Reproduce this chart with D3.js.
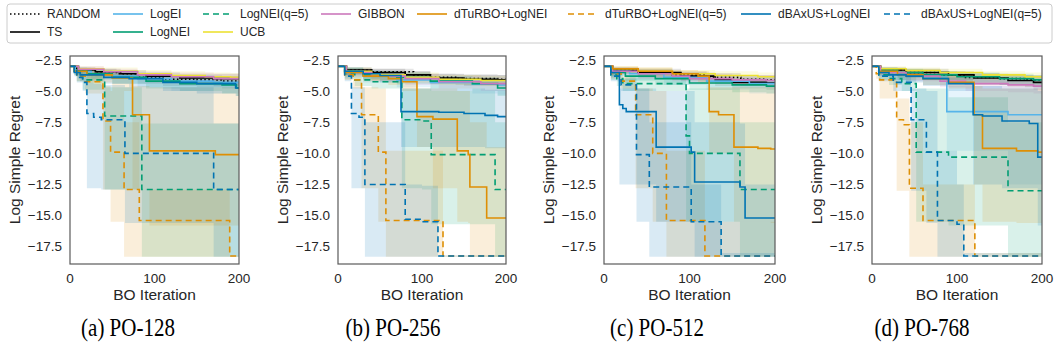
<!DOCTYPE html>
<html>
<head>
<meta charset="utf-8">
<script src="https://cdn.jsdelivr.net/npm/d3@7"></script>
<style>
  body { margin: 0; background: #fff; }
  svg { display: block; }
</style>
</head>
<body>
<svg id="chart" width="1056" height="354"></svg>
<script>
// methods, in legend order
const methods = ["RANDOM", "TS", "LogEI", "LogNEI", "LogNEI(q=5)", "UCB", "GIBBON",
  "dTuRBO+LogNEI", "dTuRBO+LogNEI(q=5)", "dBAxUS+LogNEI", "dBAxUS+LogNEI(q=5)"];
const captions = ["(a) PO-128", "(b) PO-256", "(c) PO-512", "(d) PO-768"];
const xTicks = [0, 100, 200];
const yTicks = [-2.5, -5, -7.5, -10, -12.5, -15, -17.5];

// each row: [iteration, mean, lower, upper]  (step-after)
const po128 = [
  [[0,-3.0,-3.1,-2.9],[8,-3.3,-3.6,-3.1],[30,-3.45,-3.8,-3.2],[55,-3.6,-4.0,-3.3],[80,-3.9,-4.4,-3.6],[110,-4.05,-4.6,-3.7],[150,-4.1,-4.7,-3.75],[180,-4.2,-4.8,-3.8]],
  [[0,-3.0,-3.1,-2.9],[10,-3.3,-3.6,-3.1],[30,-3.45,-3.8,-3.2],[60,-3.6,-4.0,-3.3],[90,-3.8,-4.3,-3.5],[130,-3.95,-4.5,-3.6],[170,-4.0,-4.6,-3.6]],
  [[0,-3.0,-3.1,-2.9],[6,-3.4,-3.8,-3.1],[25,-3.6,-4.1,-3.3],[50,-3.8,-4.4,-3.4],[80,-4.0,-4.7,-3.5],[120,-4.2,-5.0,-3.7],[170,-4.3,-5.2,-3.8]],
  [[0,-3.0,-3.1,-2.9],[5,-3.4,-3.7,-3.1],[20,-3.6,-4.0,-3.3],[50,-3.9,-4.4,-3.5],[90,-4.2,-4.8,-3.8],[130,-4.4,-5.0,-3.9],[180,-4.5,-5.2,-4.0],[197,-4.75,-5.4,-4.2]],
  [[0,-3.0,-3.1,-2.9],[8,-3.8,-4.2,-3.4],[15,-4.1,-4.9,-3.6],[41,-7.0,-12.9,-4.7],[85,-12.9,-18.3,-7.6]],
  [[0,-3.0,-3.1,-2.9],[10,-3.2,-3.5,-3.0],[40,-3.4,-3.7,-3.1],[80,-3.6,-4.0,-3.3],[120,-3.75,-4.1,-3.4],[160,-3.85,-4.2,-3.5],[190,-3.9,-4.3,-3.55]],
  [[0,-3.0,-3.1,-2.9],[10,-3.25,-3.5,-3.0],[40,-3.45,-3.8,-3.2],[80,-3.7,-4.1,-3.4],[120,-3.85,-4.3,-3.5],[170,-4.0,-4.4,-3.6]],
  [[0,-3.0,-3.1,-2.9],[5,-3.4,-3.7,-3.2],[20,-3.7,-4.3,-3.4],[50,-3.95,-5.0,-3.6],[74,-6.9,-12.9,-4.6],[94,-9.8,-15.8,-4.7],[172,-10.1,-15.8,-4.7]],
  [[0,-3.0,-3.1,-2.9],[8,-3.8,-4.2,-3.4],[18,-4.25,-5.2,-3.7],[39,-7.4,-12.9,-4.6],[48,-9.9,-15.5,-5.0],[64,-12.9,-18.3,-7.5],[82,-15.4,-18.3,-12.9],[189,-18.25,-18.3,-18.2]],
  [[0,-3.0,-3.1,-2.9],[5,-3.5,-3.8,-3.2],[12,-3.7,-4.2,-3.4],[40,-3.9,-4.4,-3.5],[70,-4.0,-4.7,-3.6],[110,-4.3,-5.0,-3.8],[150,-4.4,-5.2,-3.9],[196,-4.75,-5.4,-4.1]],
  [[0,-3.0,-3.1,-2.9],[8,-3.9,-4.3,-3.5],[15,-4.3,-5.0,-3.8],[20,-6.8,-12.8,-4.3],[28,-7.1,-12.8,-4.4],[37,-7.3,-12.9,-4.5],[65,-10.0,-15.6,-4.7],[170,-12.9,-18.3,-7.6]]
];

const po256 = [
  [[0,-3.0,-3.1,-2.9],[10,-3.3,-3.6,-3.1],[40,-3.45,-3.8,-3.2],[90,-3.7,-4.1,-3.4],[110,-3.9,-4.4,-3.6],[140,-4.0,-4.5,-3.65],[190,-4.05,-4.6,-3.7]],
  [[0,-3.0,-3.1,-2.9],[10,-3.3,-3.6,-3.1],[40,-3.5,-3.9,-3.2],[80,-3.7,-4.1,-3.4],[110,-3.95,-4.4,-3.6],[150,-4.05,-4.6,-3.7],[190,-4.1,-4.7,-3.7]],
  [[0,-3.0,-3.1,-2.9],[8,-3.5,-3.9,-3.2],[30,-3.8,-4.3,-3.4],[70,-4.1,-4.7,-3.6],[110,-4.3,-5.0,-3.8],[160,-4.45,-5.2,-3.9],[190,-4.5,-5.3,-3.9]],
  [[0,-3.0,-3.1,-2.9],[8,-3.4,-3.7,-3.1],[30,-3.7,-4.1,-3.4],[70,-3.9,-4.4,-3.5],[110,-4.2,-4.8,-3.8],[160,-4.4,-5.0,-3.9],[190,-4.75,-5.4,-4.2]],
  [[0,-3.0,-3.1,-2.9],[8,-3.6,-4.0,-3.3],[20,-4.1,-4.6,-3.7],[40,-4.25,-4.8,-3.8],[76,-7.3,-12.8,-4.8],[100,-7.4,-12.9,-4.8],[111,-10.1,-15.7,-5.0],[187,-12.9,-18.3,-7.5]],
  [[0,-3.0,-3.1,-2.9],[10,-3.4,-3.7,-3.1],[40,-3.7,-4.1,-3.4],[80,-3.9,-4.3,-3.5],[120,-4.05,-4.5,-3.7],[170,-4.15,-4.6,-3.8]],
  [[0,-3.0,-3.1,-2.9],[10,-3.5,-3.8,-3.2],[40,-3.8,-4.2,-3.5],[80,-4.0,-4.5,-3.6],[120,-4.25,-4.8,-3.8],[170,-4.4,-5.0,-3.9]],
  [[0,-3.0,-3.1,-2.9],[8,-3.5,-3.8,-3.2],[30,-3.8,-4.2,-3.4],[60,-4.0,-4.5,-3.6],[76,-4.25,-5.0,-3.9],[94,-7.05,-9.5,-4.8],[113,-7.25,-12.8,-4.8],[142,-9.8,-15.5,-5.0],[155,-10.1,-15.6,-5.0],[157,-12.7,-18.3,-7.5],[177,-15.2,-18.3,-9.5]],
  [[0,-3.0,-3.1,-2.9],[8,-3.7,-4.1,-3.4],[18,-4.1,-4.8,-3.8],[28,-6.9,-12.8,-4.7],[48,-9.9,-15.5,-4.8],[57,-15.4,-18.3,-9.8],[125,-18.25,-18.3,-18.2]],
  [[0,-3.0,-3.1,-2.9],[8,-3.4,-3.7,-3.1],[30,-3.6,-4.0,-3.3],[50,-3.75,-4.3,-3.4],[75,-6.65,-9.5,-4.8],[120,-6.7,-9.5,-4.8],[150,-6.8,-9.5,-4.8],[175,-6.95,-9.6,-4.9],[190,-7.05,-9.6,-4.9]],
  [[0,-3.0,-3.1,-2.9],[8,-3.8,-4.2,-3.4],[16,-6.8,-12.8,-4.7],[25,-7.1,-12.8,-4.7],[32,-12.5,-18.3,-7.5],[80,-15.3,-18.3,-12.5],[100,-15.5,-18.3,-12.6],[119,-18.25,-18.3,-18.2]]
];

const po512 = [
  [[0,-3.0,-3.1,-2.9],[10,-3.3,-3.6,-3.1],[40,-3.5,-3.9,-3.2],[80,-3.7,-4.1,-3.4],[120,-3.9,-4.4,-3.55],[160,-4.05,-4.6,-3.7],[190,-4.1,-4.7,-3.7]],
  [[0,-3.0,-3.1,-2.9],[10,-3.3,-3.6,-3.1],[40,-3.5,-3.9,-3.2],[90,-3.8,-4.2,-3.5],[130,-4.1,-4.6,-3.7],[150,-4.3,-4.8,-3.9],[190,-4.35,-4.9,-3.9]],
  [[0,-3.0,-3.1,-2.9],[8,-3.4,-3.8,-3.1],[30,-3.6,-4.1,-3.3],[70,-3.9,-4.5,-3.5],[120,-4.2,-4.9,-3.7],[170,-4.4,-5.2,-3.8]],
  [[0,-3.0,-3.1,-2.9],[8,-3.5,-3.8,-3.2],[25,-3.8,-4.2,-3.4],[60,-4.0,-4.5,-3.6],[100,-4.35,-4.9,-3.9],[150,-4.5,-5.1,-4.0],[190,-4.6,-5.2,-4.1]],
  [[0,-3.0,-3.1,-2.9],[8,-3.7,-4.1,-3.4],[15,-4.0,-4.6,-3.6],[22,-4.4,-5.0,-3.9],[96,-8.6,-15.5,-4.8],[100,-10.0,-15.5,-4.8],[159,-12.9,-18.3,-7.5]],
  [[0,-3.0,-3.1,-2.9],[10,-3.2,-3.5,-3.0],[40,-3.4,-3.7,-3.1],[80,-3.6,-4.0,-3.3],[130,-3.75,-4.1,-3.4],[180,-3.85,-4.2,-3.5]],
  [[0,-3.0,-3.1,-2.9],[10,-3.4,-3.7,-3.1],[40,-3.6,-4.0,-3.3],[80,-3.8,-4.2,-3.5],[100,-4.0,-4.4,-3.6],[150,-4.1,-4.6,-3.7],[190,-4.15,-4.7,-3.7]],
  [[0,-3.0,-3.1,-2.9],[10,-3.2,-3.5,-3.0],[40,-3.4,-3.8,-3.1],[80,-3.6,-4.0,-3.3],[110,-3.8,-4.3,-3.4],[123,-6.65,-10.0,-4.7],[134,-6.9,-10.0,-4.7],[152,-9.5,-15.5,-4.7],[180,-9.6,-15.5,-4.7],[195,-9.65,-15.6,-4.7]],
  [[0,-3.0,-3.1,-2.9],[8,-3.6,-4.0,-3.3],[20,-4.2,-4.8,-3.8],[37,-6.9,-12.8,-4.8],[57,-10.0,-15.5,-5.0],[73,-15.4,-18.3,-9.8],[118,-18.25,-18.3,-15.5]],
  [[0,-3.0,-3.1,-2.9],[8,-3.5,-3.9,-3.2],[18,-6.1,-12.5,-4.8],[22,-6.4,-12.5,-4.8],[26,-6.65,-12.5,-4.8],[61,-9.5,-15.5,-5.0],[102,-9.9,-15.6,-5.0],[106,-12.3,-18.3,-7.5],[159,-12.7,-18.3,-7.6],[165,-15.2,-18.3,-12.5]],
  [[0,-3.0,-3.1,-2.9],[8,-3.8,-4.2,-3.4],[20,-4.5,-5.0,-4.0],[38,-10.1,-15.5,-4.8],[53,-12.7,-18.3,-7.5],[102,-15.5,-18.3,-12.5],[137,-18.25,-18.3,-18.0]]
];

const po768 = [
  [[0,-3.0,-3.1,-2.9],[10,-3.3,-3.6,-3.1],[40,-3.5,-3.9,-3.2],[80,-3.7,-4.1,-3.4],[110,-3.9,-4.4,-3.55],[150,-4.0,-4.5,-3.6],[180,-4.1,-4.7,-3.7]],
  [[0,-3.0,-3.1,-2.9],[10,-3.3,-3.6,-3.1],[40,-3.5,-3.9,-3.2],[90,-3.7,-4.1,-3.4],[120,-3.95,-4.5,-3.6],[160,-4.15,-4.7,-3.7],[190,-4.3,-4.9,-3.8]],
  [[0,-3.0,-3.1,-2.9],[8,-3.4,-3.8,-3.1],[30,-3.7,-4.2,-3.3],[60,-3.9,-4.5,-3.4],[88,-6.65,-9.8,-4.6],[160,-6.9,-12.5,-4.7]],
  [[0,-3.0,-3.1,-2.9],[8,-3.3,-3.6,-3.1],[30,-3.5,-3.9,-3.2],[60,-3.7,-4.1,-3.4],[100,-3.85,-4.3,-3.5],[150,-4.0,-4.5,-3.6],[190,-4.1,-4.6,-3.7]],
  [[0,-3.0,-3.1,-2.9],[8,-3.7,-4.1,-3.4],[20,-4.0,-4.5,-3.6],[35,-4.4,-5.0,-3.8],[52,-9.9,-15.5,-4.8],[90,-10.3,-15.8,-5.5],[160,-13.0,-18.3,-7.5]],
  [[0,-3.0,-3.1,-2.9],[10,-3.2,-3.5,-3.0],[40,-3.35,-3.7,-3.1],[80,-3.5,-3.9,-3.2],[130,-3.7,-4.1,-3.4],[180,-3.85,-4.2,-3.5]],
  [[0,-3.0,-3.1,-2.9],[10,-3.5,-3.8,-3.2],[40,-3.8,-4.2,-3.5],[80,-4.2,-4.7,-3.8],[110,-4.4,-5.0,-3.9],[160,-4.5,-5.1,-4.0],[190,-4.6,-5.2,-4.1]],
  [[0,-3.0,-3.1,-2.9],[8,-3.4,-3.7,-3.1],[30,-3.7,-4.1,-3.4],[60,-4.0,-4.5,-3.6],[90,-4.3,-4.8,-3.8],[120,-6.9,-12.5,-4.6],[130,-9.6,-15.5,-4.8],[170,-9.8,-15.6,-4.8],[195,-9.9,-15.6,-4.8]],
  [[0,-3.0,-3.1,-2.9],[5,-3.6,-4.0,-3.3],[9,-4.1,-5.6,-3.8],[29,-7.3,-13.0,-5.6],[37,-7.7,-13.0,-5.6],[44,-12.8,-18.3,-7.5],[60,-15.4,-18.3,-12.5],[121,-18.25,-18.3,-18.0]],
  [[0,-3.0,-3.1,-2.9],[8,-3.5,-3.8,-3.2],[20,-3.7,-4.1,-3.4],[40,-3.8,-4.3,-3.5],[60,-4.0,-4.6,-3.6],[90,-4.4,-5.0,-3.9],[119,-6.9,-12.5,-4.6],[130,-7.0,-12.5,-4.6],[153,-7.4,-12.8,-4.8],[185,-7.6,-12.8,-4.8],[195,-10.3,-15.8,-5.0]],
  [[0,-3.0,-3.1,-2.9],[8,-3.8,-4.2,-3.4],[25,-4.3,-5.0,-3.8],[46,-7.3,-13.0,-4.8],[64,-9.9,-15.6,-5.0],[77,-15.4,-18.3,-9.8],[100,-15.7,-18.3,-12.5],[108,-18.25,-18.3,-18.0]]
];

const panelData = [po128, po256, po512, po768];

// styling
const colors = ["#000000", "#000000", "#56b4e9", "#029e73", "#029e73", "#ece133", "#cc78bc",
  "#de8f05", "#de8f05", "#0173b2", "#0173b2"];
const dashes = ["1.5,2.5", null, null, null, "6,4", null, null, null, "6,4", null, "6,4"];

const svg = d3.select("#chart");
const sans = "'Liberation Sans', Arial, sans-serif";
const textColor = "#262626";

const panelLeft = [70, 338, 604, 872];
const panelRight = [239, 506, 775, 1042];
const plotTop = 56, plotBottom = 264;

const y = d3.scaleLinear().domain([-18.89, -2.18]).range([plotBottom, plotTop]);
const fmt = d3.format(".1f");

panelData.forEach((series, p) => {
  const x = d3.scaleLinear().domain([0, 200]).range([panelLeft[p], panelRight[p]]);
  const g = svg.append("g");
  const clipId = "clip" + p;
  svg.append("defs").append("clipPath").attr("id", clipId)
    .append("rect").attr("x", panelLeft[p]).attr("y", plotTop)
    .attr("width", panelRight[p] - panelLeft[p]).attr("height", plotBottom - plotTop);

  const rows = series.map(s => {
    const last = s[s.length - 1];
    return last[0] < 200 ? s.concat([[200, last[1], last[2], last[3]]]) : s;
  });

  const area = d3.area().curve(d3.curveStepAfter)
    .x(d => x(d[0])).y0(d => y(d[2])).y1(d => y(d[3]));
  const line = d3.line().curve(d3.curveStepAfter)
    .x(d => x(d[0])).y(d => y(d[1]));

  const plot = g.append("g").attr("clip-path", `url(#${clipId})`);
  plot.selectAll("path.band").data(rows).join("path")
    .attr("class", "band")
    .attr("d", area)
    .attr("fill", (d, i) => colors[i])
    .attr("fill-opacity", (d, i) => i < 2 ? 0.1 : 0.15)
    .attr("stroke", "none");
  plot.selectAll("path.mean").data(rows).join("path")
    .attr("class", "mean")
    .attr("d", line)
    .attr("fill", "none")
    .attr("stroke", (d, i) => colors[i])
    .attr("stroke-width", 1.6)
    .attr("stroke-dasharray", (d, i) => dashes[i]);

  // frame
  g.append("rect")
    .attr("x", panelLeft[p]).attr("y", plotTop)
    .attr("width", panelRight[p] - panelLeft[p]).attr("height", plotBottom - plotTop)
    .attr("fill", "none").attr("stroke", "#5a5a5a").attr("stroke-width", 1.2);

  // ticks (no tick marks, seaborn white style)
  g.selectAll("text.ytick").data(yTicks).join("text")
    .attr("x", panelLeft[p] - 8).attr("y", d => y(d))
    .attr("dy", "0.35em").attr("text-anchor", "end")
    .attr("font-family", sans).attr("font-size", 13.5).attr("fill", textColor)
    .text(d => fmt(d));
  g.selectAll("text.xtick").data(xTicks).join("text")
    .attr("x", d => x(d)).attr("y", 283)
    .attr("text-anchor", "middle")
    .attr("font-family", sans).attr("font-size", 13.5).attr("fill", textColor)
    .text(d => d);

  g.append("text")
    .attr("x", (panelLeft[p] + panelRight[p]) / 2).attr("y", 300)
    .attr("text-anchor", "middle")
    .attr("font-family", sans).attr("font-size", 15.5).attr("fill", textColor)
    .text("BO Iteration");
  g.append("text")
    .attr("transform", `translate(${panelLeft[p] - 50},${(plotTop + plotBottom) / 2}) rotate(-90)`)
    .attr("text-anchor", "middle")
    .attr("font-family", sans).attr("font-size", 15.5).attr("fill", textColor)
    .text("Log Simple Regret");

  svg.append("text")
    .attr("transform", `translate(${[128, 393, 657, 922][p]},336) scale(1,1.15)`)
    .attr("text-anchor", "middle")
    .attr("font-family", "'Liberation Serif', 'Times New Roman', serif")
    .attr("font-size", 21).attr("fill", "#000")
    .text(captions[p]);
});

// legend: 2 rows, first three columns hold two entries each
const legend = svg.append("g");
legend.append("rect")
  .attr("x", 7).attr("y", 4).attr("width", 1045).attr("height", 39).attr("rx", 3)
  .attr("fill", "#fff").attr("stroke", "#cccccc").attr("stroke-width", 1);
const colX = [10, 113, 203, 321, 417, 568, 741, 884];
const rowY = [14, 32];
const slot = [[0,0],[0,1],[1,0],[1,1],[2,0],[2,1],[3,0],[4,0],[5,0],[6,0],[7,0]];
methods.forEach((m, i) => {
  const [col, row] = slot[i];
  const cx = colX[col], cy = rowY[row];
  legend.append("line")
    .attr("x1", cx).attr("x2", cx + 30).attr("y1", cy).attr("y2", cy)
    .attr("stroke", colors[i]).attr("stroke-width", 1.6)
    .attr("stroke-dasharray", dashes[i]);
  legend.append("text")
    .attr("x", cx + 37).attr("y", cy).attr("dy", "0.35em")
    .attr("font-family", sans).attr("font-size", 12).attr("fill", textColor)
    .text(m);
});
</script>
</body>
</html>
